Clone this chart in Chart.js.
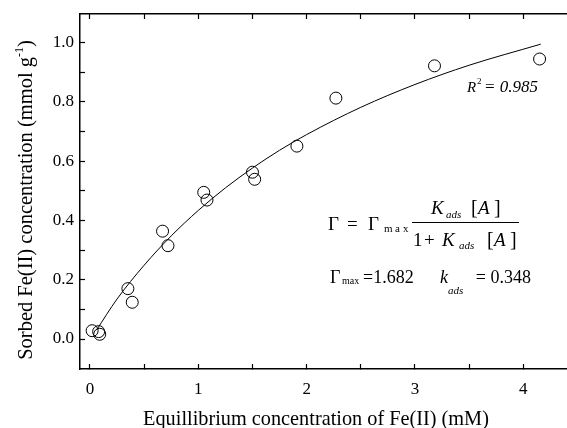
<!DOCTYPE html>
<html>
<head>
<meta charset="utf-8">
<script src="https://cdn.jsdelivr.net/npm/chart.js@4.4.0/dist/chart.umd.min.js"></script>
<style>
  body { margin: 0; background: #fff; }
</style>
</head>
<body>
<canvas id="mycanvas" width="567" height="428"></canvas>
<script>
// measured points
var expX = [0.02, 0.08, 0.09, 0.35, 0.39, 0.67, 0.72, 1.05, 1.08, 1.50, 1.52, 1.91, 2.27, 3.18, 4.15];
var expY = [0.028, 0.025, 0.016, 0.170, 0.124, 0.364, 0.315, 0.495, 0.469, 0.563, 0.539, 0.651, 0.813, 0.922, 0.945];
// fitted curve
var fitX = [0.06, 0.25, 0.5, 0.75, 1.0, 1.25, 1.5, 1.75, 2.0, 2.5, 3.0, 3.5, 4.16];
var fitY = [0.03, 0.135, 0.249, 0.348, 0.434, 0.510, 0.577, 0.637, 0.690, 0.782, 0.859, 0.924, 0.995];
var xTickLabels = ['0', '1', '2', '3', '4'];
var yTickLabels = ['0.0', '0.2', '0.4', '0.6', '0.8', '1.0'];

var serif = 'Liberation Serif';

var xTickVals = [];
xTickLabels.forEach(function(l, i) {
  xTickVals.push(i);
  if (i < xTickLabels.length - 1) xTickVals.push(i + 0.5);
});
var yTickVals = [];
yTickLabels.forEach(function(l, i) {
  yTickVals.push(i * 0.2);
  if (i < yTickLabels.length - 1) yTickVals.push(i * 0.2 + 0.1);
});

function near(a, b) { return Math.abs(a - b) < 1e-6; }

function noPad(s) {
  s.paddingTop = 0; s.paddingBottom = 0; s.paddingLeft = 0; s.paddingRight = 0;
}

function txt(ctx, s, x, y, size, italic, align) {
  ctx.font = (italic ? 'italic ' : '') + size + 'px "' + serif + '"';
  ctx.textAlign = align || 'left';
  ctx.textBaseline = 'alphabetic';
  ctx.fillText(s, x, y);
  return ctx.measureText(s).width;
}

var notes = {
  id: 'notes',
  afterDraw: function(chart) {
    var ctx = chart.ctx;
    ctx.save();
    ctx.fillStyle = '#000';

    // axis titles
    txt(ctx, 'Equillibrium concentration of Fe(II) (mM)', 316, 425, 20.3, false, 'center');

    ctx.save();
    ctx.translate(32, 200);
    ctx.rotate(-Math.PI / 2);
    ctx.font = '20.5px "' + serif + '"';
    var a = 'Sorbed Fe(II) concentration (mmol g', b = ')';
    var wa = ctx.measureText(a).width, wb = ctx.measureText(b).width;
    ctx.font = '12px "' + serif + '"';
    var ws = ctx.measureText('-1').width;
    var x0 = -(wa + ws + wb) / 2;
    txt(ctx, a, x0, 0, 20.5, false);
    txt(ctx, '-1', x0 + wa, -9, 12, false);
    txt(ctx, b, x0 + wa + ws, 0, 20.5, false);
    ctx.restore();

    // R squared
    txt(ctx, 'R', 467, 92, 15, true);
    txt(ctx, '2', 477, 84, 9, false);
    txt(ctx, '= 0.985', 538, 92, 17, true, 'right');

    // Langmuir expression
    txt(ctx, '\u0393', 328, 230, 19, false);
    txt(ctx, '=', 347, 230, 19, false);
    txt(ctx, '\u0393', 368, 230, 19, false);
    txt(ctx, 'm', 384, 232, 11, false);
    txt(ctx, 'a', 395, 232, 11, false);
    txt(ctx, 'x', 403, 232, 11, false);
    ctx.fillRect(412, 222, 107, 1);
    txt(ctx, 'K', 431, 214, 19, true);
    txt(ctx, 'ads', 446, 218, 11, true);
    txt(ctx, '[', 471, 214, 20, false);
    txt(ctx, 'A', 478, 214, 19, true);
    txt(ctx, ']', 494, 214, 20, false);
    txt(ctx, '1', 413, 246, 19, false);
    txt(ctx, '+', 424, 246, 19, false);
    txt(ctx, 'K', 442, 246, 19, true);
    txt(ctx, 'ads', 459, 249, 11, true);
    txt(ctx, '[', 487, 246, 20, false);
    txt(ctx, 'A', 494, 246, 19, true);
    txt(ctx, ']', 510, 246, 20, false);

    // fit parameters
    txt(ctx, '\u0393', 330, 283, 18, false);
    txt(ctx, 'max', 342, 284, 10, false);
    txt(ctx, '=1.682', 363, 283, 18, false);
    txt(ctx, 'k', 440, 283, 18, true);
    txt(ctx, 'ads', 448, 294, 11, true);
    txt(ctx, '= 0.348', 531, 283, 18, false, 'right');

    ctx.restore();
  }
};

var ctx = document.getElementById('mycanvas');

var chart = new Chart(ctx, {
  type: 'scatter',
  data: {
    datasets: [
      {
        label: 'data',
        data: expX.map(function(x, i) { return { x: x, y: expY[i] }; }),
        pointStyle: 'circle',
        pointRadius: 6,
        borderColor: '#000',
        backgroundColor: 'rgba(0,0,0,0)',
        borderWidth: 1
      },
      {
        label: 'fit',
        data: fitX.map(function(x, i) { return { x: x, y: fitY[i] }; }),
        showLine: true,
        pointRadius: 0,
        borderColor: '#000',
        borderWidth: 1,
        cubicInterpolationMode: 'monotone'
      }
    ]
  },
  options: {
    responsive: false,
    animation: false,
    layout: { padding: 0, autoPadding: false },
    plugins: { legend: { display: false }, tooltip: { enabled: false } },
    scales: {
      x: {
        type: 'linear',
        position: 'bottom',
        min: -0.092,
        max: 4.403,
        afterBuildTicks: function(s) { s.ticks = xTickVals.map(function(v) { return { value: v }; }); },
        afterFit: function(s) { s.height = 59; noPad(s); },
        grid: { drawOnChartArea: false, tickLength: -5, color: '#000', tickWidth: 1.2 },
        border: { display: true, color: '#000', width: 1.5 },
        ticks: {
          autoSkip: false, maxRotation: 0, padding: 15, color: '#000',
          font: { family: serif, size: 17 },
          callback: function(v) {
            var r = Math.round(v);
            return near(v, r) ? xTickLabels[r] : '';
          }
        }
      },
      x2: {
        type: 'linear',
        position: 'top',
        min: -0.092,
        max: 4.403,
        afterBuildTicks: function(s) { s.ticks = xTickVals.map(function(v) { return { value: v }; }); },
        afterFit: function(s) { s.height = 14; noPad(s); },
        grid: { drawOnChartArea: false, tickLength: -5, color: '#000', tickWidth: 1.2 },
        border: { display: true, color: '#000', width: 1.5 },
        ticks: { display: false }
      },
      y: {
        type: 'linear',
        position: 'left',
        min: -0.1012,
        max: 1.0969,
        afterBuildTicks: function(s) { s.ticks = yTickVals.map(function(v) { return { value: v }; }); },
        afterFit: function(s) { s.width = 80; noPad(s); },
        grid: { drawOnChartArea: false, tickLength: -5, color: '#000', tickWidth: 1.2 },
        border: { display: true, color: '#000', width: 1.5 },
        ticks: {
          autoSkip: false, padding: 11, color: '#000',
          font: { family: serif, size: 17 },
          callback: function(v) {
            var k = Math.round(v / 0.2);
            return near(v, k * 0.2) ? yTickLabels[k] : '';
          }
        }
      }
    }
  },
  plugins: [notes]
});
</script>
</body>
</html>
